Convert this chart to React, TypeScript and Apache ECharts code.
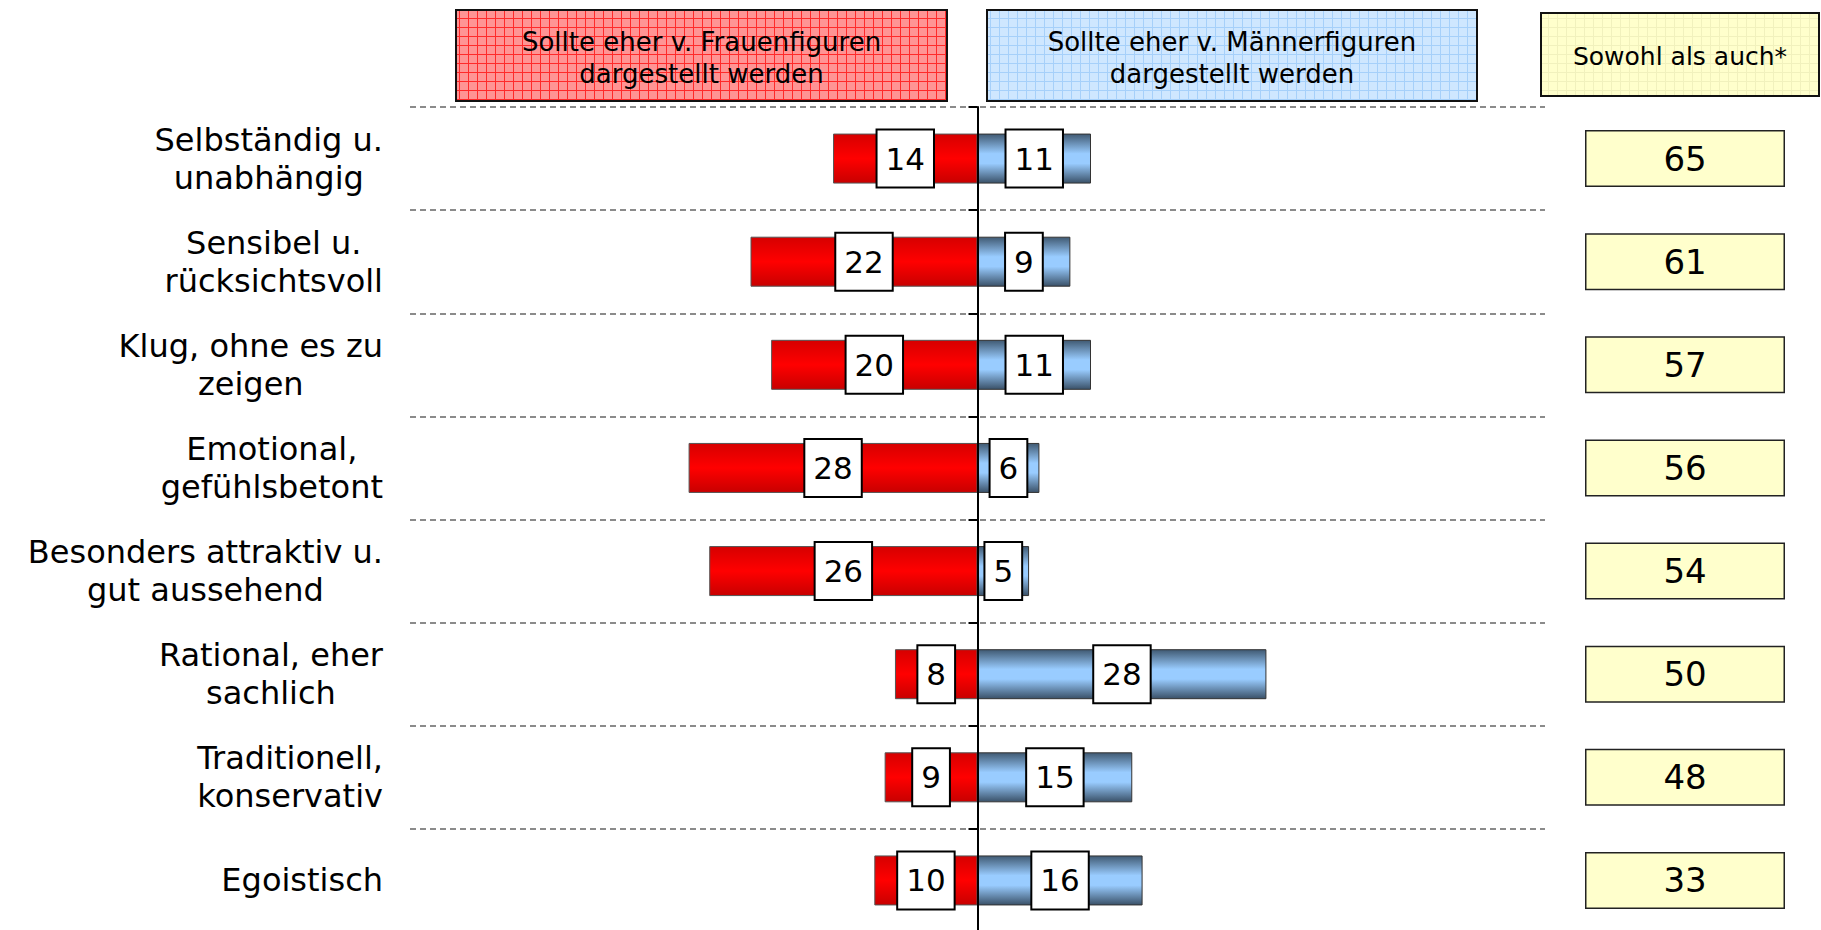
import React, { useEffect, useRef } from "react";
import * as echarts from "echarts";

const categories = [
  "Selbständig u.\nunabhängig",
  "Sensibel u.\nrücksichtsvoll",
  "Klug, ohne es zu\nzeigen",
  "Emotional,\ngefühlsbetont",
  "Besonders attraktiv u.\ngut aussehend",
  "Rational, eher\nsachlich",
  "Traditionell,\nkonservativ",
  "Egoistisch",
];
const womenValues = [14, 22, 20, 28, 26, 8, 9, 10];
const menValues = [11, 9, 11, 6, 5, 28, 15, 16];
const bothValues = [65, 61, 57, 56, 54, 50, 48, 33];

const headerWomen = "Sollte eher v. Frauenfiguren\ndargestellt werden";
const headerMen = "Sollte eher v. Männerfiguren\ndargestellt werden";
const headerBoth = "Sowohl als auch*";

const FONT = "'DejaVu Sans', Verdana, sans-serif";

function makeTile(base: string, line: string, size: number) {
  const c = document.createElement("canvas");
  c.width = size;
  c.height = size;
  const ctx = c.getContext("2d")!;
  ctx.fillStyle = base;
  ctx.fillRect(0, 0, size, size);
  ctx.fillStyle = line;
  ctx.fillRect(0, 0, size, 1);
  ctx.fillRect(0, 0, 1, size);
  return { image: c.toDataURL(), repeat: "repeat", imageWidth: size, imageHeight: size };
}

export default function App() {
  const ref = useRef<HTMLDivElement>(null);

  useEffect(() => {
    if (!ref.current) return;
    const chart = echarts.init(ref.current, null, { renderer: "svg" });

    const redTile = makeTile("#ff9494", "#ff2a2a", 9);
    const blueTile = makeTile("#cfe7ff", "#a6d0fa", 9);
    const yellowTile = makeTile("#ffffcc", "#f1f1bd", 9);

    const redGrad = new echarts.graphic.LinearGradient(0, 0, 0, 1, [
      { offset: 0, color: "#d60000" },
      { offset: 0.5, color: "#ff0000" },
      { offset: 1, color: "#c80000" },
    ]);
    const blueGrad = new echarts.graphic.LinearGradient(0, 0, 0, 1, [
      { offset: 0, color: "#405a73" },
      { offset: 0.4, color: "#99ccff" },
      { offset: 0.6, color: "#99ccff" },
      { offset: 1, color: "#3a5168" },
    ]);

    const barLabel = {
      show: true,
      position: "inside",
      formatter: (p: any) => String(Math.abs(p.value)),
      fontFamily: FONT,
      fontSize: 31,
      lineHeight: 36,
      color: "#000",
      backgroundColor: "#fff",
      borderColor: "#000",
      borderWidth: 2,
      padding: [10, 8],
    };

    const option: any = {
      animation: false,
      textStyle: { fontFamily: FONT },
      grid: {
        left: 410,
        top: 107,
        width: 1135,
        height: 825,
        containLabel: false,
        outerBoundsMode: "none",
      },
      xAxis: { type: "value", min: -55, max: 55, show: false },
      yAxis: [
        {
          type: "category",
          data: categories,
          inverse: true,
          position: "left",
          axisLine: { show: false, onZero: false },
          axisTick: { show: false },
          axisLabel: {
            interval: 0,
            margin: 27,
            align: "right",
            formatter: (v: string) =>
              v
                .split("\n")
                .map((s) => `{c|${s}}`)
                .join("\n"),
            rich: {
              c: {
                align: "center",
                fontFamily: FONT,
                fontSize: 32,
                lineHeight: 38,
                color: "#000",
              },
            },
          },
          splitLine: {
            show: true,
            interval: 0,
            lineStyle: { type: [6, 4], color: "#666", width: 1.5 },
          },
        },
        {
          type: "category",
          data: categories,
          inverse: true,
          position: "left",
          z: 5,
          axisLine: { show: true, onZero: true, lineStyle: { color: "#000", width: 2 } },
          axisTick: { show: true, interval: 0, length: 9, lineStyle: { color: "#000", width: 2 } },
          axisLabel: { show: false },
          splitLine: { show: false },
        },
        {
          type: "category",
          data: categories,
          inverse: true,
          position: "right",
          axisLine: { show: false, onZero: false },
          axisTick: { show: false },
          splitLine: { show: false },
          axisLabel: {
            interval: 0,
            margin: 140,
            align: "center",
            formatter: (_v: string, i: number) => String(bothValues[i]),
            fontFamily: FONT,
            fontSize: 34,
            lineHeight: 40,
            width: 197,
            padding: [7, 0],
            color: "#000",
            backgroundColor: "#ffffcc",
            borderColor: "#222",
            borderWidth: 1.5,
          },
        },
      ],
      series: [
        {
          type: "bar",
          name: "Frauenfiguren",
          yAxisIndex: 0,
          data: womenValues.map((v) => -v),
          barWidth: 50,
          barGap: "-100%",
          itemStyle: { color: redGrad, borderColor: "#555", borderWidth: 1 },
          label: barLabel,
        },
        {
          type: "bar",
          name: "Männerfiguren",
          yAxisIndex: 0,
          data: menValues,
          barWidth: 50,
          barGap: "-100%",
          itemStyle: { color: blueGrad, borderColor: "#333", borderWidth: 1 },
          label: barLabel,
        },
      ],
      graphic: [
        {
          type: "rect",
          shape: { x: 456, y: 10, width: 491, height: 91 },
          style: { fill: redTile, stroke: "#111", lineWidth: 2 },
        },
        {
          type: "text",
          x: 701.5,
          y: 58,
          style: {
            text: headerWomen,
            align: "center",
            verticalAlign: "middle",
            fontFamily: FONT,
            fontSize: 26,
            lineHeight: 32,
            fill: "#000",
          },
        },
        {
          type: "rect",
          shape: { x: 987, y: 10, width: 490, height: 91 },
          style: { fill: blueTile, stroke: "#111", lineWidth: 2 },
        },
        {
          type: "text",
          x: 1232,
          y: 58,
          style: {
            text: headerMen,
            align: "center",
            verticalAlign: "middle",
            fontFamily: FONT,
            fontSize: 26,
            lineHeight: 32,
            fill: "#000",
          },
        },
        {
          type: "rect",
          shape: { x: 1541, y: 13, width: 278, height: 83 },
          style: { fill: yellowTile, stroke: "#111", lineWidth: 2 },
        },
        {
          type: "text",
          x: 1680,
          y: 56,
          style: {
            text: headerBoth,
            align: "center",
            verticalAlign: "middle",
            fontFamily: FONT,
            fontSize: 25,
            fill: "#000",
          },
        },
      ],
    };

    chart.setOption(option);
    return () => chart.dispose();
  }, []);

  return (
    <div
      ref={ref}
      style={{ position: "fixed", left: 0, top: 0, width: 1821, height: 930, background: "#fff" }}
    />
  );
}
